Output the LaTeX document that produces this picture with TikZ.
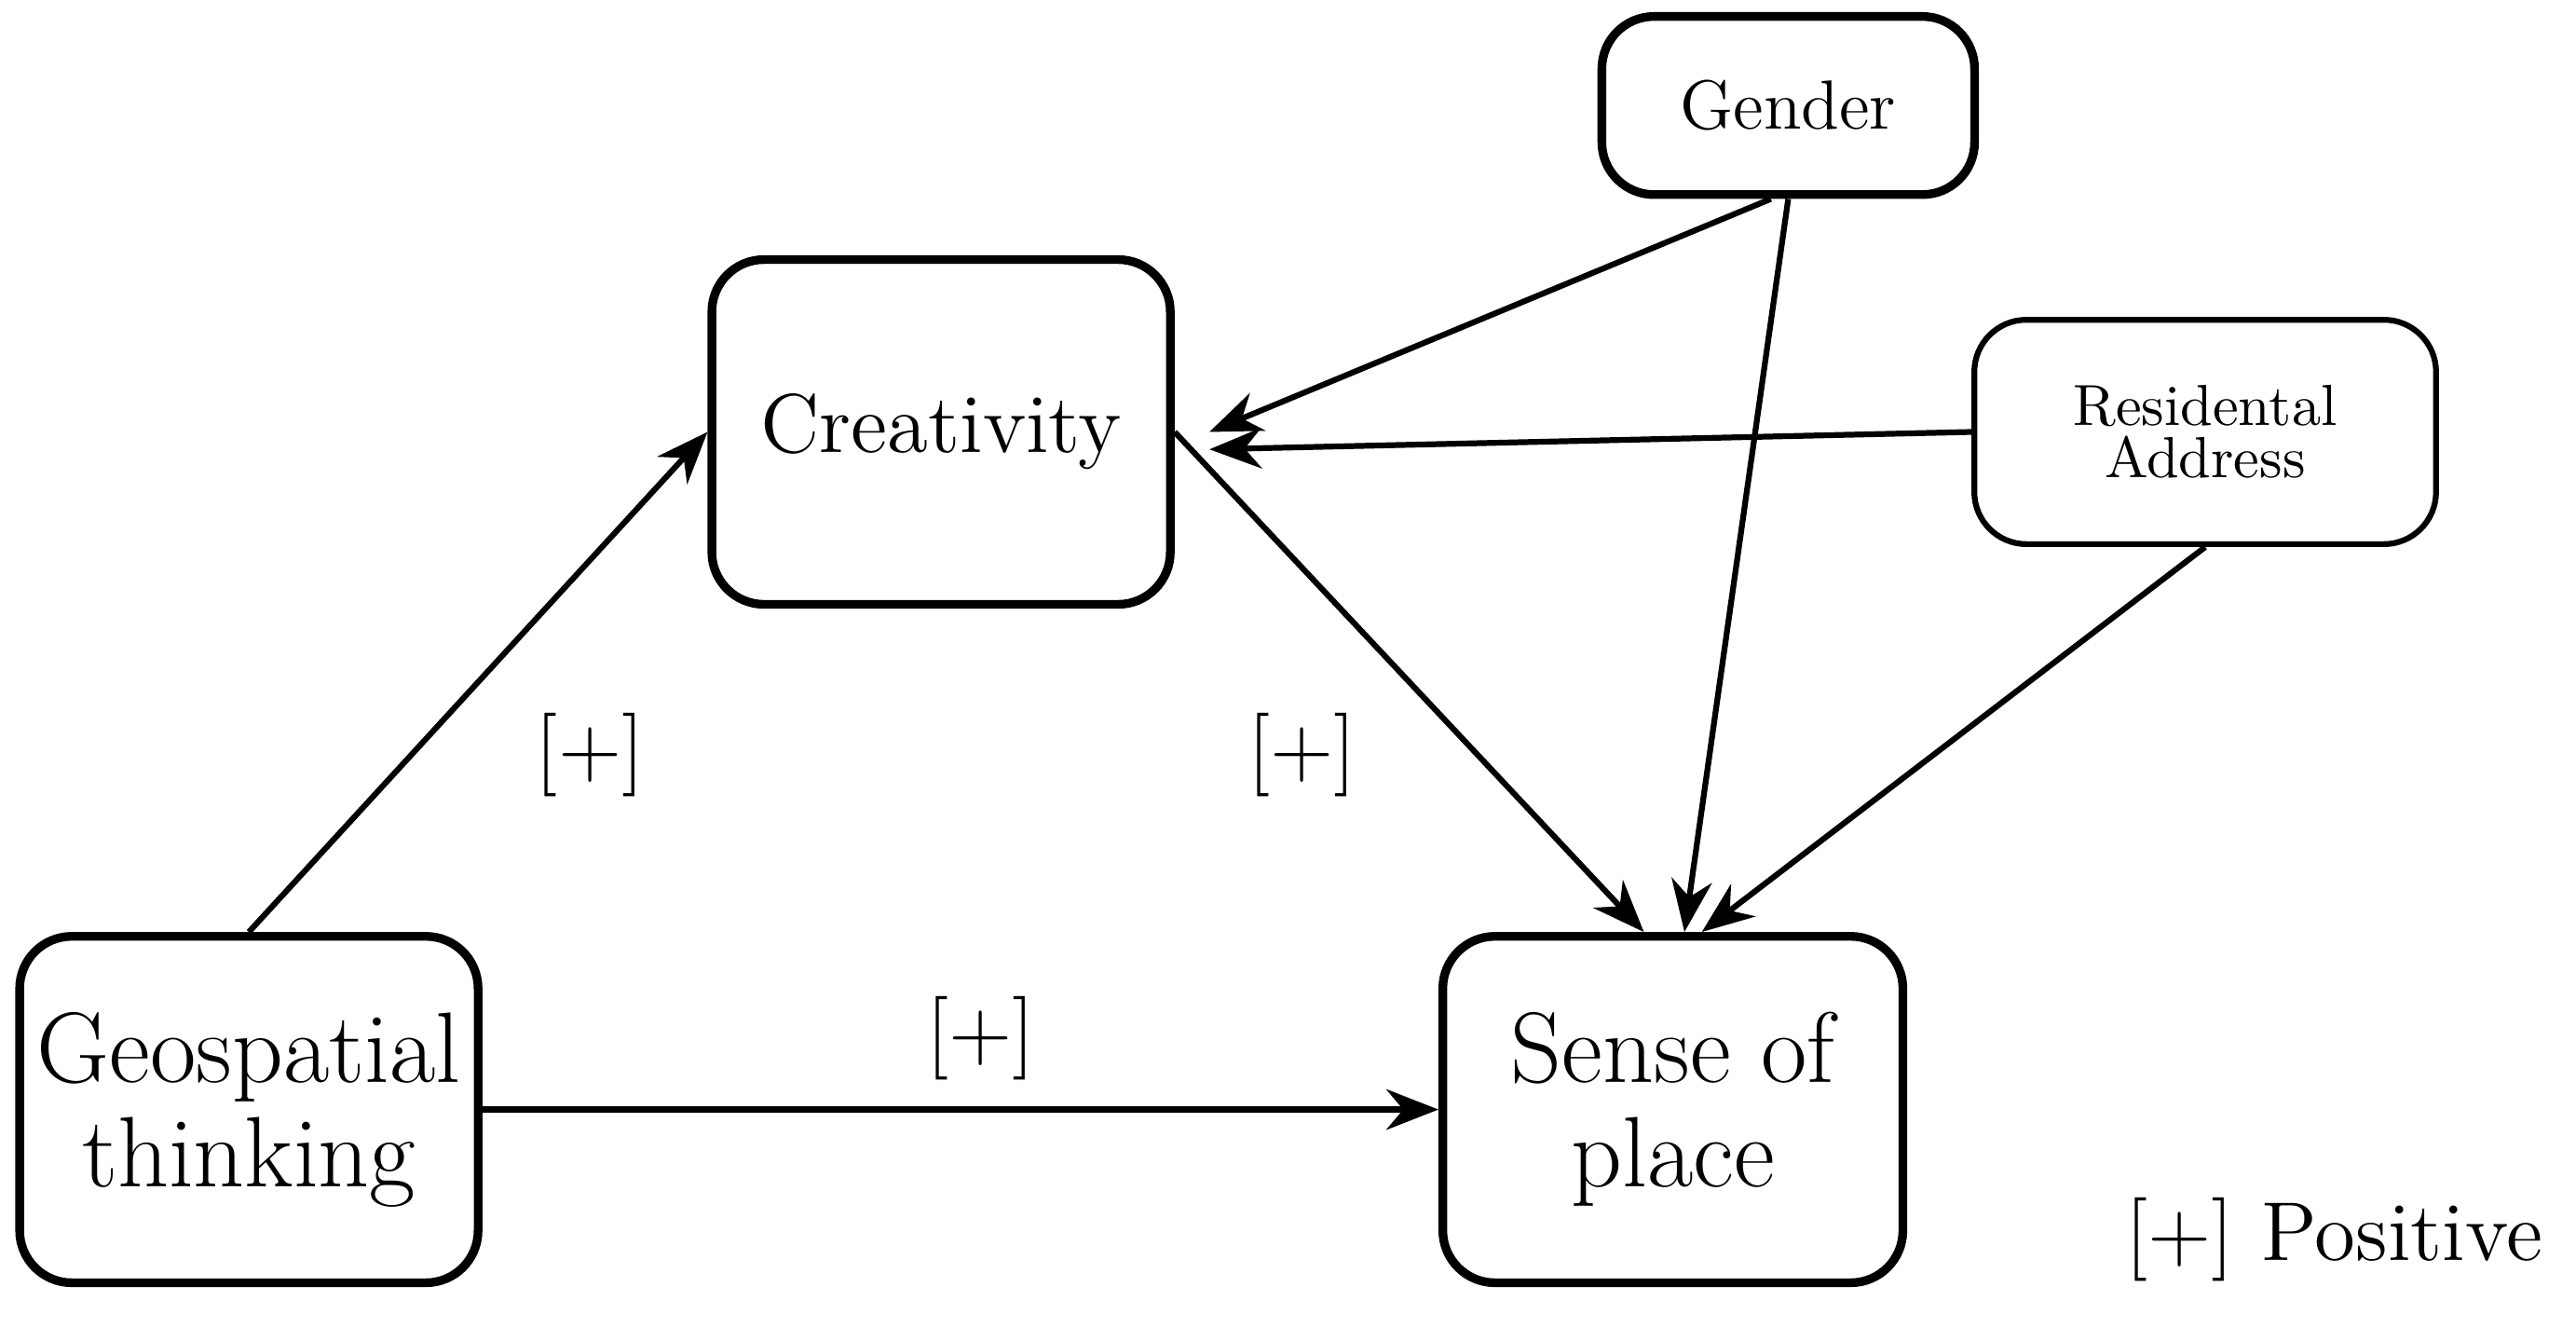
\documentclass[tikz,border=0pt]{standalone}
\usepackage{amsmath}
\usetikzlibrary{arrows.meta,positioning}

\tikzset{
  box/.style={draw, line width=1.5pt, rounded corners=9pt, align=center, inner sep=0pt},
  link/.style={line width=1pt, -{Stealth[length=9pt,width=7pt]}},
  sign/.style={font=\Large}
}

\begin{document}
\begin{tikzpicture}[x=0.01cm, y=-0.01cm]

            \useasboundingbox (0,0) rectangle (1563,805);

            % Nodes

            \node[box, minimum width=2.26cm, minimum height=1.08cm, font=\large] (gen) at (1085,64) {Gender};
            \node[box, minimum width=2.78cm, minimum height=2.09cm, font=\Large] (crea) at (571,262) {Creativity};
            \node[box, minimum width=2.8cm, minimum height=1.36cm, line width=1pt] (res) at (1338,262) {Residental\\[-3pt]Address};
            \node[box, minimum width=2.78cm, minimum height=2.1cm, font=\LARGE] (geo) at (151,673) {Geospatial\\[-4pt]thinking};
            \node[box, minimum width=2.79cm, minimum height=2.1cm, font=\LARGE] (sop) at (1015,673) {Sense of\\[-4pt]place};

            % Signs

            \node[sign] (s1) at (358,458) {[+]};
            \node[sign] (s2) at (790,458) {[+]};
            \node[sign] (s3) at (595,630) {[+]};
            \node[font=\Large, anchor=east] (key) at (1555,752) {[+] Positive};

            % Edges

            \draw[link] (geo.north) -- (crea.west);
            \draw[link] (crea.east) -- ([xshift=-5pt]sop.north);
            \draw[link] (geo.east) -- (sop.west);
            \draw[link] ([xshift=-3pt]gen.south) -- ([xshift=6pt]crea.east);
            \draw[link] (gen.south) -- ([xshift=2pt]sop.north);
            \draw[link] (res.west) -- ([xshift=6pt,yshift=-3pt]crea.east);
            \draw[link] (res.south) -- ([xshift=5pt]sop.north);

\end{tikzpicture}
\end{document}
